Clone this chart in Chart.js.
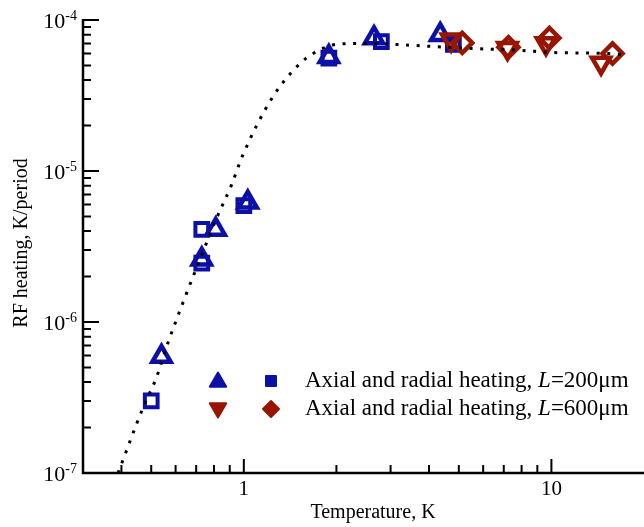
<!DOCTYPE html>
<html>
<head>
<meta charset="utf-8">
<script src="https://cdn.jsdelivr.net/npm/chart.js@4.4.0/dist/chart.umd.min.js"></script>
<style>
  html, body { margin: 0; background: #fff; overflow: hidden; }
  canvas { display: block; }
</style>
</head>
<body>
<canvas id="myChart" width="644" height="527"></canvas>
<script>
// values (log-log)
const curveX = [0.39, 0.47, 0.52, 0.56, 0.63, 0.75, 0.82, 0.91, 0.99, 1.23, 1.5, 1.7, 1.85, 2.0, 2.5, 3.5, 5.3, 7.9, 10, 15, 17];
const curveY = [1.0e-7, 2.7e-7, 4.3e-7, 6.8e-7, 1.3e-6, 3.2e-6, 5.0e-6, 8.0e-6, 1.26e-5, 3.0e-5, 5.0e-5, 6.1e-5, 6.6e-5, 6.9e-5, 7.0e-5, 6.8e-5, 6.5e-5, 6.3e-5, 6.1e-5, 6.0e-5, 5.9e-5];

const blueTriX = [0.54, 0.73, 0.81, 1.03, 1.89, 2.65, 4.35];
const blueTriY = [5.9e-7, 2.6e-6, 4.1e-6, 6.2e-6, 5.7e-5, 7.6e-5, 8.0e-5];
const blueSqX = [0.50, 0.73, 0.73, 1.0, 1.89, 2.8, 4.8];
const blueSqY = [3.0e-7, 2.45e-6, 4.1e-6, 5.9e-6, 5.6e-5, 7.2e-5, 6.9e-5];
const redTriX = [4.72, 7.2, 9.6, 14.5];
const redTriY = [7.4e-5, 6.5e-5, 7.0e-5, 5.2e-5];
const redDiaX = [5.13, 7.25, 9.85, 15.8];
const redDiaY = [7.05e-5, 6.6e-5, 7.6e-5, 6.0e-5];

const xMajor = [1, 10];
const yExponents = [-7, -6, -5, -4];
const legendLabels = ["=200\u03bcm", "=600\u03bcm"];

const BLUE = "#0c10a6";
const RED = "#981500";
const SERIF = '"Liberation Serif", "DejaVu Serif", serif';

function toPoints(xs, ys) {
  return xs.map((x, i) => ({ x: x, y: ys[i] }));
}

function marker(ctx, style, x, y, r) {
  ctx.beginPath();
  if (style === "up" || style === "down") {
    const s = style === "up" ? 1 : -1;
    ctx.moveTo(x, y - s * r);
    ctx.lineTo(x + r * 0.866, y + s * r / 2);
    ctx.lineTo(x - r * 0.866, y + s * r / 2);
  } else if (style === "square") {
    ctx.rect(x - r, y - r, 2 * r, 2 * r);
  } else {
    ctx.moveTo(x, y - r);
    ctx.lineTo(x + r, y);
    ctx.lineTo(x, y + r);
    ctx.lineTo(x - r, y);
  }
  ctx.closePath();
  ctx.fill();
  ctx.stroke();
}

// axes, inward ticks, labels and legend drawn in the figure's style
const framePlugin = {
  id: "frame",
  afterDraw(chart) {
    const ctx = chart.ctx;
    const xs = chart.scales.x;
    const ys = chart.scales.y;
    const a = chart.chartArea;
    ctx.save();
    ctx.strokeStyle = "#000";
    ctx.fillStyle = "#000";
    ctx.lineWidth = 2.5;
    ctx.beginPath();
    ctx.moveTo(a.left, a.top - 1);
    ctx.lineTo(a.left, a.bottom);
    ctx.lineTo(a.right, a.bottom);
    ctx.stroke();

    ctx.lineWidth = 2;
    ctx.beginPath();
    // y ticks
    yExponents.forEach(function (e) {
      const py = ys.getPixelForValue(Math.pow(10, e));
      ctx.moveTo(a.left, py);
      ctx.lineTo(a.left + 16, py);
      if (e < -4) {
        for (let m = 2; m <= 9; m++) {
          const p = ys.getPixelForValue(m * Math.pow(10, e));
          ctx.moveTo(a.left, p);
          ctx.lineTo(a.left + 8, p);
        }
      }
    });
    // x ticks
    for (let e = -1; e <= 1; e++) {
      for (let m = 1; m <= 9; m++) {
        const v = m * Math.pow(10, e);
        if (v <= xs.min || v >= xs.max) continue;
        const p = xs.getPixelForValue(v);
        ctx.moveTo(p, a.bottom);
        ctx.lineTo(p, a.bottom - (m === 1 ? 14 : 8));
      }
    }
    ctx.stroke();

    // y tick labels 10^n
    ctx.textBaseline = "middle";
    ctx.textAlign = "left";
    yExponents.forEach(function (e) {
      const py = ys.getPixelForValue(Math.pow(10, e));
      ctx.font = "14px " + SERIF;
      const ex = String(e);
      const w2 = ctx.measureText(ex).width;
      ctx.font = "22px " + SERIF;
      const w1 = ctx.measureText("10").width;
      const right = a.left - 6;
      ctx.fillText("10", right - w2 - w1, py + 2);
      ctx.font = "14px " + SERIF;
      ctx.fillText(ex, right - w2, py - 4);
    });

    // x tick labels
    ctx.textAlign = "center";
    ctx.font = "21px " + SERIF;
    xMajor.forEach(function (v) {
      ctx.fillText(String(v), xs.getPixelForValue(v), 489);
    });

    // axis titles
    ctx.font = "20px " + SERIF;
    ctx.fillText("Temperature, K", 373, 513);
    ctx.save();
    ctx.translate(22, 243);
    ctx.rotate(-Math.PI / 2);
    ctx.fillText("RF heating, K/period", 0, 0);
    ctx.restore();

    // legend
    ctx.lineWidth = 2;
    ctx.lineJoin = "round";
    const rows = [
      { y: 381, color: BLUE, a: "up", b: "square" },
      { y: 409, color: RED, a: "down", b: "diamond" }
    ];
    rows.forEach(function (row, i) {
      ctx.fillStyle = row.color;
      ctx.strokeStyle = row.color;
      marker(ctx, row.a, 218, row.y + (row.a === "up" ? 1 : -1), 9.5);
      marker(ctx, row.b, 271, row.y, row.b === "square" ? 5 : 8);
      ctx.fillStyle = "#000";
      ctx.textAlign = "left";
      let x = 305;
      ctx.font = "23px " + SERIF;
      const head = "Axial and radial heating, ";
      ctx.fillText(head, x, row.y);
      x += ctx.measureText(head).width;
      ctx.font = "italic 23px " + SERIF;
      ctx.fillText("L", x, row.y);
      x += ctx.measureText("L").width;
      ctx.font = "23px " + SERIF;
      ctx.fillText(legendLabels[i], x, row.y);
    });
    ctx.restore();
  }
};

const hollow = "rgba(0,0,0,0)";
const config = {
  type: "scatter",
  data: {
    datasets: [
      {
        data: toPoints(curveX, curveY),
        showLine: true,
        pointRadius: 0,
        borderColor: "#000",
        borderWidth: 3,
        borderDash: [3, 7.6],
        cubicInterpolationMode: "monotone",
        clip: false
      },
      {
        data: toPoints(redDiaX, redDiaY),
        pointStyle: "rectRot",
        pointRadius: 10,
        borderColor: RED,
        backgroundColor: hollow,
        borderWidth: 4.5,
        clip: false
      },
      {
        data: toPoints(redTriX, redTriY),
        pointStyle: "triangle",
        rotation: 180,
        pointRadius: 10.5,
        borderColor: RED,
        backgroundColor: hollow,
        borderWidth: 4.5,
        clip: false
      },
      {
        data: toPoints(blueSqX, blueSqY),
        pointStyle: "rect",
        pointRadius: 9,
        borderColor: BLUE,
        backgroundColor: hollow,
        borderWidth: 4,
        clip: false
      },
      {
        data: toPoints(blueTriX, blueTriY),
        pointStyle: "triangle",
        pointRadius: 10.5,
        borderColor: BLUE,
        backgroundColor: hollow,
        borderWidth: 4.5,
        clip: false
      }
    ]
  },
  options: {
    responsive: false,
    animation: false,
    layout: { autoPadding: false, padding: { left: 83, top: 20, right: 0, bottom: 54 } },
    scales: {
      x: { type: "logarithmic", min: 0.3, max: 20, display: false },
      y: { type: "logarithmic", min: 1e-7, max: 1e-4, display: false }
    },
    plugins: {
      legend: { display: false },
      tooltip: { enabled: false }
    }
  },
  plugins: [framePlugin]
};
const myChart = new Chart(document.getElementById("myChart"), config);
</script>
</body>
</html>
